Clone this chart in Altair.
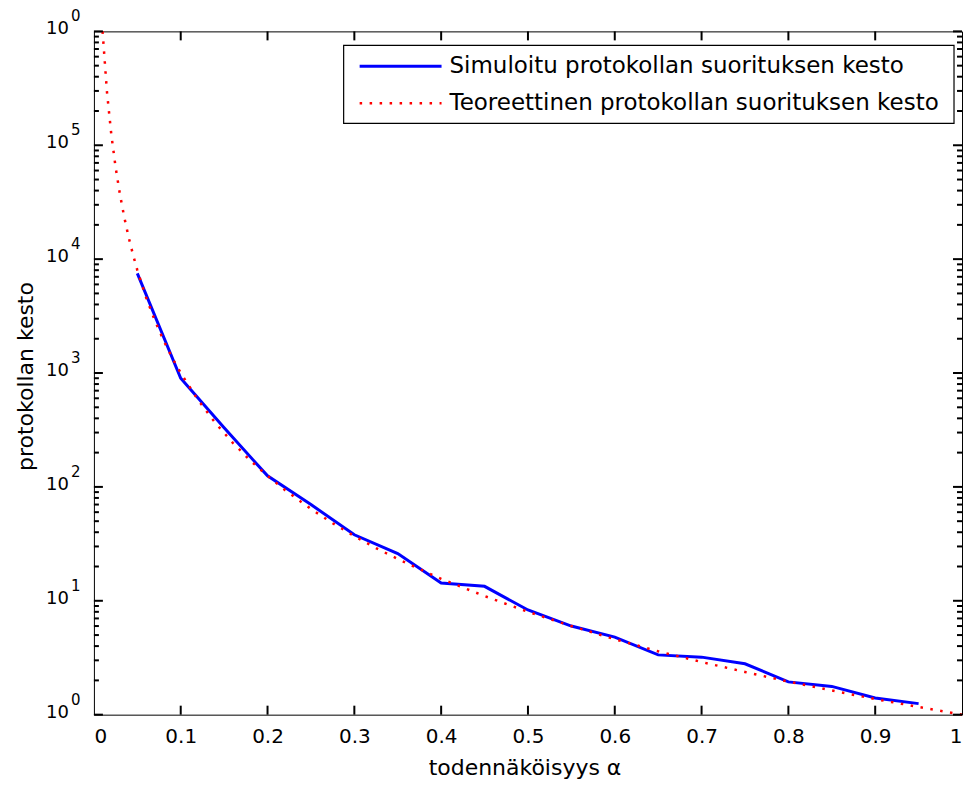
import altair as alt
import pandas as pd

# ---------------- data ----------------
sim_alpha = [0.05, 0.10, 0.15, 0.20, 0.25, 0.30, 0.35, 0.40, 0.45, 0.50,
             0.55, 0.60, 0.65, 0.70, 0.75, 0.80, 0.85, 0.90, 0.95]
sim_kesto = [7500, 900, 330, 125, 70, 38, 26, 14.3, 13.4, 8.3,
             6.0, 4.8, 3.35, 3.2, 2.8, 1.94, 1.77, 1.40, 1.25]

teor_alpha = [0.01, 0.015, 0.02, 0.025, 0.03, 0.035, 0.04, 0.045, 0.05, 0.06,
              0.07, 0.08, 0.09, 0.10, 0.12, 0.14, 0.16, 0.18, 0.20, 0.22,
              0.25, 0.275, 0.30, 0.325, 0.35, 0.375, 0.40, 0.45, 0.50, 0.55,
              0.60, 0.65, 0.70, 0.75, 0.80, 0.85, 0.90, 0.95, 1.00]
teor_kesto = [1000000, 296000, 125000, 64000, 37000, 23300, 15600, 11000, 8000, 4630,
              2920, 1950, 1370, 1000, 579, 364, 244, 171, 125, 94,
              64, 48, 37, 29, 23.3, 19, 15.6, 11, 8, 6,
              4.6, 3.6, 2.9, 2.37, 1.95, 1.63, 1.37, 1.17, 1.0]

x_ticks = [0, 0.1, 0.2, 0.3, 0.4, 0.5, 0.6, 0.7, 0.8, 0.9, 1]
x_inner_ticks = [0.1, 0.2, 0.3, 0.4, 0.5, 0.6, 0.7, 0.8, 0.9]
y_decades = [1, 10, 100, 1000, 10000, 100000, 1000000]
y_exponents = ["0", "1", "2", "3", "4", "5", "0"]
y_minor = [m * d for d in [1, 10, 100, 1000, 10000, 100000] for m in range(2, 10)]

legend_labels = ["Simuloitu protokollan suorituksen kesto",
                 "Teoreettinen protokollan suorituksen kesto"]
x_title = "todennäköisyys α"
y_title = "protokollan kesto"

# ---------------- layout constants ----------------
W, H = 869, 684
FONT = "DejaVu Sans"
BLUE = "#0000ff"
RED = "#ff0000"
INK = "black"
TICKW = 2

xs = alt.Scale(domain=[0, 1], nice=False, zero=False)
ys = alt.Scale(type="log", domain=[1, 1000000], nice=False, zero=False)

sim_df = pd.DataFrame({"a": sim_alpha, "v": sim_kesto})
teor_df = pd.DataFrame({"a": teor_alpha, "v": teor_kesto})
lab_df = pd.DataFrame({"v": y_decades, "e": y_exponents})
major_df = pd.DataFrame({"v": y_decades})
minor_df = pd.DataFrame({"v": y_minor})
xt_df = pd.DataFrame({"a": x_inner_ticks})
one = pd.DataFrame({"k": [0]})

x_axis = alt.Axis(values=x_ticks, format="~g", title=x_title, grid=False,
                  domain=False, ticks=False, tickSize=0, labelPadding=12,
                  labelFont=FONT, labelFontSize=20, labelColor="#000",
                  titleFont=FONT, titleFontSize=22, titleFontWeight="normal",
                  titleColor="#000", titleX=431, titleY=60,
                  titleBaseline="alphabetic")
y_axis = alt.Axis(labels=False, ticks=False, tickSize=0, domain=False,
                  grid=False, title=y_title, titleFont=FONT, titleFontSize=22,
                  titleFontWeight="normal", titleColor="#000", titleAngle=270,
                  titleX=-61, titleY=345, titleBaseline="alphabetic")

sim = alt.Chart(sim_df).mark_line(color=BLUE, strokeWidth=3).encode(
    x=alt.X("a:Q", scale=xs, axis=x_axis),
    y=alt.Y("v:Q", scale=ys, axis=y_axis),
)
teor = alt.Chart(teor_df).mark_line(color=RED, strokeWidth=2.5,
                                    strokeDash=[2.5, 7.5]).encode(
    x=alt.X("a:Q", scale=xs),
    y=alt.Y("v:Q", scale=ys),
)

# inward ticks (MATLAB style), drawn as the last layers
def ytick(df, length, right):
    x0 = W - length if right else 0
    return alt.Chart(df).mark_rule(color=INK, strokeWidth=TICKW).encode(
        y=alt.Y("v:Q", scale=ys), x=alt.value(x0), x2=alt.value(x0 + length))

def xtick(top):
    y0 = 0 if top else H - 9
    return alt.Chart(xt_df).mark_rule(color=INK, strokeWidth=TICKW).encode(
        x=alt.X("a:Q", scale=xs), y=alt.value(y0), y2=alt.value(y0 + 9))

yl_major = ytick(major_df, 9, False)
yl_minor = ytick(minor_df, 5, False)
yr_major = ytick(major_df, 9, True)
yr_minor = ytick(minor_df, 5, True)
xb = xtick(False)
xt = xtick(True)

# y tick labels as 10 with raised exponent
ten = alt.Chart(lab_df).mark_text(align="right", baseline="middle", font=FONT,
                                  fontSize=18, color="#000", dy=-2).encode(
    y=alt.Y("v:Q", scale=ys), x=alt.value(-25), text=alt.value("10"))
expo = alt.Chart(lab_df).mark_text(align="left", baseline="middle", font=FONT,
                                   fontSize=15, color="#000", dy=-15).encode(
    y=alt.Y("v:Q", scale=ys), x=alt.value(-23), text="e:N")

# legend box
box = alt.Chart(one).mark_rect(fill="white", stroke="#000", strokeWidth=1.2).encode(
    x=alt.value(250), x2=alt.value(861), y=alt.value(14), y2=alt.value(92))
leg1 = alt.Chart(one).mark_rule(color=BLUE, strokeWidth=3).encode(
    x=alt.value(266), x2=alt.value(348), y=alt.value(35))
leg2 = alt.Chart(one).mark_rule(color=RED, strokeWidth=2.5, strokeDash=[2.5, 7.5]).encode(
    x=alt.value(266), x2=alt.value(348), y=alt.value(72))
txt1 = alt.Chart(one).mark_text(align="left", baseline="middle", font=FONT,
                                fontSize=23, color="#000").encode(
    x=alt.value(356), y=alt.value(35), text=alt.value(legend_labels[0]))
txt2 = alt.Chart(one).mark_text(align="left", baseline="middle", font=FONT,
                                fontSize=23, color="#000").encode(
    x=alt.value(356), y=alt.value(72), text=alt.value(legend_labels[1]))

chart = alt.layer(
    sim, teor, ten, expo,
    box, leg1, leg2, txt1, txt2,
    yl_major, yl_minor, yr_major, yr_minor, xb, xt,
).properties(
    width=W, height=H,
    autosize=alt.AutoSizeParams(type="none"),
    padding={"left": 86, "top": 23, "right": 4, "bottom": 66},
    background="white",
).configure_view(stroke="#000", strokeWidth=1)

chart.save("out.html", embed_options={"renderer": "svg", "actions": False})
